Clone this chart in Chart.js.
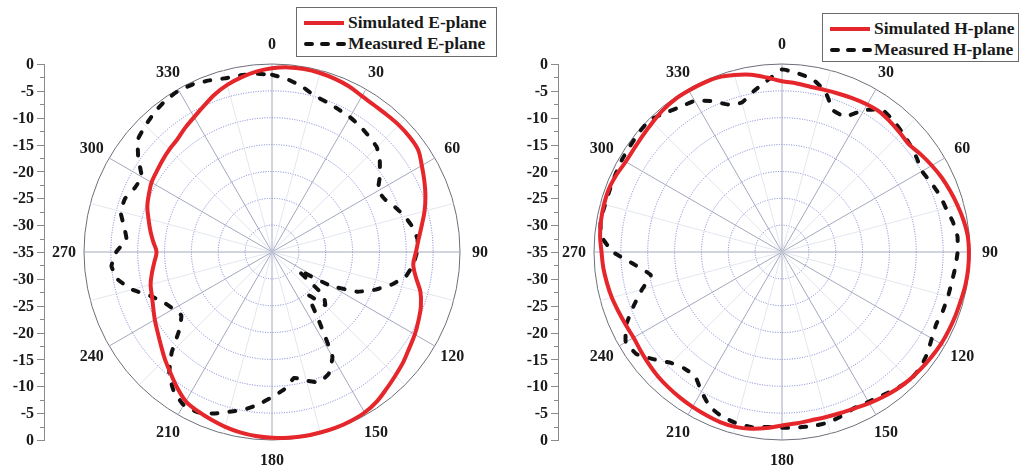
<!DOCTYPE html>
<html lang="en">
<head>
<meta charset="UTF-8">
<title>E-plane / H-plane radiation patterns</title>
<script src="https://cdn.jsdelivr.net/npm/chart.js"></script>
<style>
  body { margin: 0; background: #fff; }
  .wrap { position: relative; width: 1019px; height: 466px; }
  canvas { position: absolute; top: 0; }
  #ePlane { left: 0; }
  #hPlane { left: 510px; }

  .legend {
    position: absolute;
    box-sizing: border-box;
    border: 1px solid #6b6b6b;
    background: #fff;
    padding: 4px 0 0 5px;
    font: bold 17.5px "Liberation Serif", "Times New Roman", serif;
    color: #1a1a1a;
  }
  .legend .row { display: flex; align-items: center; height: 21px; }
  .legend svg { margin-right: 2px; }
</style>
</head>
<body>
<div class="wrap">
  <canvas id="ePlane" width="510" height="466"></canvas>
  <canvas id="hPlane" width="509" height="466"></canvas>

  <div class="legend" style="left:296px; top:7px; width:201px; height:50px;">
    <div class="row">
      <svg width="44" height="8"><line x1="2" y1="4" x2="42" y2="4" stroke="#e3262b" stroke-width="4"/></svg>
      <span>Simulated E-plane</span>
    </div>
    <div class="row">
      <svg width="44" height="8"><line x1="4" y1="4" x2="42" y2="4" stroke="#111" stroke-width="4" stroke-linecap="round" stroke-dasharray="6 10"/></svg>
      <span>Measured E-plane</span>
    </div>
  </div>

  <div class="legend" style="left:822px; top:13px; width:197px; height:49px;">
    <div class="row">
      <svg width="44" height="8"><line x1="2" y1="4" x2="42" y2="4" stroke="#e3262b" stroke-width="4"/></svg>
      <span>Simulated H-plane</span>
    </div>
    <div class="row">
      <svg width="44" height="8"><line x1="4" y1="4" x2="42" y2="4" stroke="#111" stroke-width="4" stroke-linecap="round" stroke-dasharray="6 10"/></svg>
      <span>Measured H-plane</span>
    </div>
  </div>
</div>

<script>
// angle of each sample, degrees clockwise from the top
const angles = [
  0, 5, 10, 15, 20, 25, 30, 35, 40, 45, 50, 55,
  60, 65, 70, 75, 80, 85, 90, 95, 100, 105, 110, 115,
  120, 125, 130, 135, 140, 145, 150, 155, 160, 165, 170, 175,
  180, 185, 190, 195, 200, 205, 210, 215, 220, 225, 230, 235,
  240, 245, 250, 255, 260, 265, 270, 275, 280, 285, 290, 295,
  300, 305, 310, 315, 320, 325, 330, 335, 340, 345, 350, 355
];
const angleTicks = [0, 30, 60, 90, 120, 150, 180, 210, 240, 270, 300, 330];
const dbTicks = [0, -5, -10, -15, -20, -25, -30, -35];

// normalised gain, dB
const eSimulated = [
  -0.8, -0.5, -0.4, -0.5, -0.7, -1.0, -1.5, -1.7, -1.7, -1.6, -1.6, -1.8,
  -2.8, -3.7, -4.6, -5.6, -6.7, -7.6, -8.2, -8.6, -7.8, -6.4, -5.5, -4.9,
  -4.3, -3.8, -3.1, -2.5, -1.8, -1.0, -0.5, -0.3, -0.2, -0.2, -0.2, -0.3,
  -0.4, -0.6, -0.9, -1.3, -1.8, -2.3, -2.9, -4.2, -5.6, -6.8, -8.0, -9.0,
  -9.8, -10.6, -11.2, -11.6, -12.3, -13.0, -13.5, -12.8, -12.0, -11.2, -10.3, -9.7,
  -9.1, -8.8, -8.4, -8.0, -7.6, -6.8, -6.0, -5.0, -3.8, -2.8, -2.0, -1.3
];
const eMeasured = [
  -2.0, -2.7, -3.6, -4.8, -5.3, -5.7, -6.0, -6.4, -6.9, -7.4, -8.8, -10.5,
  -12.2, -11.8, -10.6, -9.4, -8.4, -7.8, -8.0, -8.6, -9.6, -11.8, -14.5, -17.5,
  -22.5, -29.0, -22.5, -21.0, -24.5, -20.3, -12.5, -10.0, -9.2, -10.2, -11.2, -9.3,
  -8.0, -6.5, -5.2, -4.2, -3.0, -2.1, -2.1, -3.2, -5.2, -8.6, -12.5, -14.4,
  -13.8, -12.8, -11.0, -8.0, -5.8, -5.0, -6.0, -7.8, -7.0, -5.8, -5.9, -6.8,
  -7.0, -4.6, -2.4, -1.7, -1.0, -0.5, -0.3, -0.5, -1.0, -1.5, -1.6, -1.7
];
const hSimulated = [
  -3.2, -3.5, -3.8, -3.8, -3.7, -3.5, -3.3, -3.2, -3.5, -3.8, -4.0, -3.4,
  -2.8, -2.2, -1.7, -1.2, -0.7, -0.3, -0.2, -0.2, -0.3, -0.5, -0.6, -0.7,
  -0.8, -1.0, -1.2, -1.4, -1.7, -2.1, -2.5, -2.9, -3.1, -3.2, -3.2, -3.0,
  -2.7, -2.1, -1.6, -1.3, -1.3, -1.5, -1.7, -1.9, -2.1, -2.3, -2.6, -2.9,
  -3.1, -2.9, -2.6, -2.2, -1.9, -1.6, -1.4, -1.0, -0.8, -0.7, -0.7, -1.0,
  -1.4, -1.4, -1.2, -0.9, -0.5, -0.3, -0.3, -0.3, -0.4, -0.9, -1.5, -2.4
];
const hMeasured = [
  -1.0, -1.6, -2.3, -4.0, -7.0, -7.2, -4.5, -2.6, -2.9, -3.4, -3.9, -4.4,
  -4.9, -4.4, -3.8, -3.4, -2.7, -2.2, -2.3, -2.6, -2.9, -3.0, -3.1, -3.3,
  -2.8, -2.0, -1.4, -1.3, -1.8, -2.4, -2.8, -3.0, -2.5, -2.1, -2.1, -2.2,
  -2.3, -2.3, -1.9, -2.0, -2.4, -3.2, -5.0, -6.8, -6.7, -5.8, -3.9, -1.9,
  -1.4, -3.0, -5.6, -8.0, -10.2, -7.5, -3.5, -1.2, -0.7, -0.9, -0.9, -0.8,
  -0.6, -0.5, -0.3, -0.2, -1.2, -2.0, -2.5, -4.0, -5.8, -6.2, -4.6, -3.0
];

const SERIF = '"Liberation Serif", "Times New Roman", serif';

// angle labels round the rim and the mirrored dB scale on the left
const polarFrame = {
  id: 'polarFrame',
  afterDraw(chart, args, opts) {
    const r = chart.scales.r;
    const ctx = chart.ctx;
    ctx.save();

    ctx.font = 'bold 16px ' + SERIF;
    ctx.fillStyle = '#1a1a1a';
    ctx.textAlign = 'center';
    ctx.textBaseline = 'middle';
    angleTicks.forEach(a => {
      const p = r.getPointPosition(angles.indexOf(a), r.drawingArea + 20);
      ctx.fillText(String(a), p.x, p.y + 1);
    });

    const x = r.xCenter - r.drawingArea - opts.axisGap;
    const top = r.yCenter - r.drawingArea;
    const bottom = r.yCenter + r.drawingArea;
    ctx.strokeStyle = '#8a8a8a';
    ctx.lineWidth = 1;
    ctx.beginPath();
    ctx.moveTo(x + 0.5, top);
    ctx.lineTo(x + 0.5, bottom);
    ctx.stroke();

    ctx.textAlign = 'right';
    const marks = [];
    dbTicks.forEach(v => {
      const d = r.getDistanceFromCenterForValue(v);
      marks.push({ v, y: r.yCenter - d, major: true });
      if (d > 0) marks.push({ v, y: r.yCenter + d, major: true });
    });
    for (let k = 0; k < dbTicks.length - 1; k++) {
      const d = r.getDistanceFromCenterForValue((dbTicks[k] + dbTicks[k + 1]) / 2);
      marks.push({ y: r.yCenter - d, major: false });
      marks.push({ y: r.yCenter + d, major: false });
    }
    marks.forEach(m => {
      const len = m.major ? 7 : 4;
      ctx.beginPath();
      ctx.moveTo(x - len, Math.round(m.y) + 0.5);
      ctx.lineTo(x + 1, Math.round(m.y) + 0.5);
      ctx.stroke();
      if (m.major) ctx.fillText(String(m.v), x - 10, m.y + 1);
    });
    ctx.restore();
  }
};

function makePolar(id, simulated, measured, axisGap, rightPad) {
  new Chart(document.getElementById(id), {
    type: 'radar',
    data: {
      labels: angles,
      datasets: [
        {
          label: 'Simulated',
          data: simulated,
          borderColor: '#e5262b',
          borderWidth: 4,
          tension: 0.35,
          fill: false,
          pointRadius: 0
        },
        {
          label: 'Measured',
          data: measured,
          borderColor: '#111',
          borderWidth: 4,
          borderDash: [6, 12],
          borderCapStyle: 'round',
          tension: 0.1,
          fill: false,
          pointRadius: 0
        }
      ]
    },
    options: {
      responsive: false,
      animation: false,
      layout: { padding: { left: 84, right: rightPad, top: 64, bottom: 26 } },
      plugins: {
        legend: { display: false },
        tooltip: { enabled: false },
        polarFrame: { axisGap: axisGap }
      },
      scales: {
        r: {
          min: -35,
          max: 0,
          ticks: { display: false, stepSize: 5 },
          pointLabels: { display: false },
          grid: {
            circular: true,
            color: c => c.tick.value === 0 ? '#6c6f7b' : '#737dd4',
            lineWidth: 1
          },
          border: {
            dash: c => c.tick.value === 0 ? [] : [1, 1.5]
          },
          angleLines: {
            color: c => c.index % 6 === 0 ? '#a4a8bc' : '#e4e6ef',
            lineWidth: c => c.index % 3 === 0 ? 1 : 0
          }
        }
      }
    },
    plugins: [polarFrame]
  });
}

makePolar('ePlane', eSimulated, eMeasured, 40, 50);
makePolar('hPlane', hSimulated, hMeasured, 36, 49);
</script>
</body>
</html>
